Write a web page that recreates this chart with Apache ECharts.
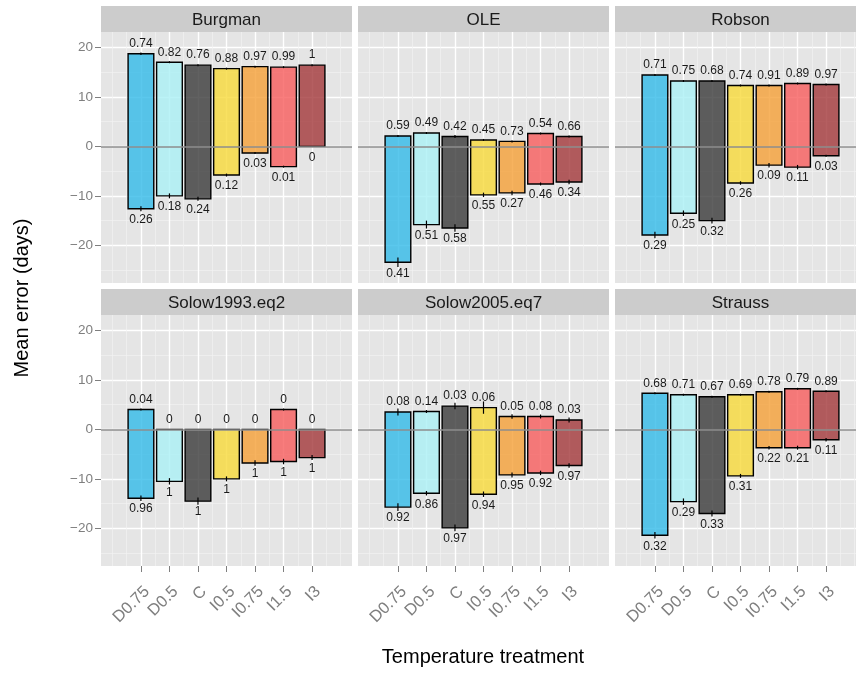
<!DOCTYPE html>
<html>
<head>
<meta charset="utf-8">
<script src="https://cdn.jsdelivr.net/npm/echarts@6/dist/echarts.min.js"></script>
<style>
  html, body { margin: 0; padding: 0; background: #ffffff; }
  #chart { width: 856px; height: 673px; }
</style>
</head>
<body>
<div id="chart"></div>
<script>
// Temperature treatments (x categories, positions 1..7)
const categories = ['D0.75', 'D0.5', 'C', 'I0.5', 'I0.75', 'I1.5', 'I3'];
const panelNames = ['Burgman', 'OLE', 'Robson', 'Solow1993.eq2', 'Solow2005.eq7', 'Strauss'];

// Mean positive / negative error (days) and the proportion labels for each estimator
const burgmanUpper = [18.7, 17.0, 16.4, 15.7, 16.1, 16.0, 16.4];
const burgmanLower = [-12.6, -10.0, -10.6, -5.8, -1.35, -4.1, 0];
const burgmanUpperP = [0.74, 0.82, 0.76, 0.88, 0.97, 0.99, 1];
const burgmanLowerP = [0.26, 0.18, 0.24, 0.12, 0.03, 0.01, 0];
const burgmanUpperSe = [0.25, 0.2, 0.2, 0.2, 0.2, 0.2, 0.2];
const burgmanLowerSe = [0.5, 0.5, 0.4, 0.3, 0.2, 0.2, 0];

const oleUpper = [2.1, 2.7, 2.0, 1.3, 1.0, 2.6, 2.0];
const oleLower = [-23.4, -15.8, -16.5, -9.8, -9.4, -7.6, -7.2];
const oleUpperP = [0.59, 0.49, 0.42, 0.45, 0.73, 0.54, 0.66];
const oleLowerP = [0.41, 0.51, 0.58, 0.55, 0.27, 0.46, 0.34];
const oleUpperSe = [0.2, 0.2, 0.3, 0.2, 0.2, 0.2, 0.2];
const oleLowerSe = [0.95, 0.8, 0.75, 0.45, 0.45, 0.3, 0.45];

const robsonUpper = [14.4, 13.2, 13.2, 12.3, 12.3, 12.7, 12.5];
const robsonLower = [-17.9, -13.5, -15.0, -7.4, -3.8, -4.2, -1.9];
const robsonUpperP = [0.71, 0.75, 0.68, 0.74, 0.91, 0.89, 0.97];
const robsonLowerP = [0.29, 0.25, 0.32, 0.26, 0.09, 0.11, 0.03];
const robsonUpperSe = [0.2, 0.2, 0.2, 0.2, 0.2, 0.2, 0.2];
const robsonLowerSe = [0.65, 0.55, 0.6, 0.35, 0.45, 0.45, 0.2];

const solow1993Upper = [4.0, 0, 0, 0, 0, 4.0, 0];
const solow1993Lower = [-13.9, -10.5, -14.5, -10.0, -6.8, -6.5, -5.7];
const solow1993UpperP = [0.04, 0, 0, 0, 0, 0, 0];
const solow1993LowerP = [0.96, 1, 1, 1, 1, 1, 1];
const solow1993UpperSe = [0.2, 0, 0, 0, 0, 0.2, 0];
const solow1993LowerSe = [0.55, 0.65, 0.75, 0.5, 0.55, 0.55, 0.5];

const solow2005Upper = [3.5, 3.6, 4.7, 4.4, 2.6, 2.6, 1.9];
const solow2005Lower = [-15.7, -12.9, -19.9, -13.1, -9.2, -8.8, -7.3];
const solow2005UpperP = [0.08, 0.14, 0.03, 0.06, 0.05, 0.08, 0.03];
const solow2005LowerP = [0.92, 0.86, 0.97, 0.94, 0.95, 0.92, 0.97];
const solow2005UpperSe = [0.7, 0.3, 0.65, 1.25, 0.45, 0.4, 0.5];
const solow2005LowerSe = [0.8, 0.45, 0.7, 0.55, 0.5, 0.45, 0.45];

const straussUpper = [7.3, 7.0, 6.6, 7.0, 7.6, 8.2, 7.7];
const straussLower = [-21.4, -14.6, -17.0, -9.4, -3.7, -3.7, -2.1];
const straussUpperP = [0.68, 0.71, 0.67, 0.69, 0.78, 0.79, 0.89];
const straussLowerP = [0.32, 0.29, 0.33, 0.31, 0.22, 0.21, 0.11];
const straussUpperSe = [0.2, 0.2, 0.2, 0.2, 0.2, 0.2, 0.2];
const straussLowerSe = [0.65, 0.65, 0.6, 0.4, 0.35, 0.4, 0.35];

// Axis breaks
const yMajorTicks = [-20, -10, 0, 10, 20];
const yMinorTicks = [-25, -15, -5, 5, 15];
const xMajorTicks = [1, 2, 3, 4, 5, 6, 7];
const xMinorTicks = [0, 0.5, 1.5, 2.5, 3.5, 4.5, 5.5, 6.5, 7.5, 8];

// Treatment fill colours (semi-transparent over the panel background)
const fills = [
  'rgba(50,186,233,0.8)', 'rgba(170,240,245,0.8)', 'rgba(58,58,58,0.8)',
  'rgba(248,218,58,0.8)', 'rgba(245,160,55,0.8)', 'rgba(248,93,93,0.8)',
  'rgba(163,55,58,0.8)'
];

const panels = [
  { upper: burgmanUpper, lower: burgmanLower, upperP: burgmanUpperP, lowerP: burgmanLowerP, upperSe: burgmanUpperSe, lowerSe: burgmanLowerSe },
  { upper: oleUpper, lower: oleLower, upperP: oleUpperP, lowerP: oleLowerP, upperSe: oleUpperSe, lowerSe: oleLowerSe },
  { upper: robsonUpper, lower: robsonLower, upperP: robsonUpperP, lowerP: robsonLowerP, upperSe: robsonUpperSe, lowerSe: robsonLowerSe },
  { upper: solow1993Upper, lower: solow1993Lower, upperP: solow1993UpperP, lowerP: solow1993LowerP, upperSe: solow1993UpperSe, lowerSe: solow1993LowerSe },
  { upper: solow2005Upper, lower: solow2005Lower, upperP: solow2005UpperP, lowerP: solow2005LowerP, upperSe: solow2005UpperSe, lowerSe: solow2005LowerSe },
  { upper: straussUpper, lower: straussLower, upperP: straussUpperP, lowerP: straussLowerP, upperSe: straussUpperSe, lowerSe: straussLowerSe }
];

// Facet layout
const colLeft = [101, 358, 615];
const rowTop = [32, 315];
const panelW = 251, panelH = 251, stripH = 26;
const xMin = -0.4, xMax = 8.4, yMin = -27.6, yMax = 23.1;
const barHalf = 0.45;
const FONT = '"Liberation Sans", Arial, Helvetica, sans-serif';

function fmtY(v) {
  return v < 0 ? '\u2212' + (-v) : String(v);
}

function makeRender(p) {
  return function (params, api) {
    const k = params.dataIndex;
    const x = api.value(0);
    const lo = api.value(1);
    const hi = api.value(2);
    const tl = api.coord([x - barHalf, hi]);
    const br = api.coord([x + barHalf, lo]);
    const mid = api.coord([x, 0])[0];
    const children = [{
      type: 'rect',
      shape: { x: tl[0], y: tl[1], width: br[0] - tl[0], height: br[1] - tl[1] },
      style: { fill: fills[k], stroke: '#000', lineWidth: 1.4 }
    }];
    const eu = p.upperSe[k];
    if (eu > 0) {
      const a = api.coord([x, hi + eu]), b = api.coord([x, hi - eu]);
      children.push({ type: 'line', shape: { x1: mid, y1: a[1], x2: mid, y2: b[1] }, style: { stroke: '#000', lineWidth: 1.2 } });
    }
    const el = p.lowerSe[k];
    if (el > 0) {
      const a = api.coord([x, lo + el]), b = api.coord([x, lo - el]);
      children.push({ type: 'line', shape: { x1: mid, y1: a[1], x2: mid, y2: b[1] }, style: { stroke: '#000', lineWidth: 1.2 } });
    }
    children.push({
      type: 'text', x: mid, y: tl[1] - 10,
      style: { text: String(p.upperP[k]), align: 'center', verticalAlign: 'middle', textAlign: 'center', textVerticalAlign: 'middle', fill: '#1a1a1a', font: '12px ' + FONT }
    });
    children.push({
      type: 'text', x: mid, y: br[1] + 11,
      style: { text: String(p.lowerP[k]), align: 'center', verticalAlign: 'middle', textAlign: 'center', textVerticalAlign: 'middle', fill: '#1a1a1a', font: '12px ' + FONT }
    });
    return { type: 'group', children: children };
  };
}

const grids = [], xAxes = [], yAxes = [], series = [], graphics = [];

panels.forEach(function (p, i) {
  const col = i % 3, row = Math.floor(i / 3);
  const left = colLeft[col], top = rowTop[row];
  grids.push({
    left: left, top: top, width: panelW, height: panelH,
    show: true, backgroundColor: '#e5e5e5', borderWidth: 0,
    containLabel: false, outerBoundsMode: 'none'
  });
  // major x axis: ticks, labels, major grid lines
  xAxes.push({
    type: 'value', gridIndex: i, min: xMin, max: xMax, position: 'bottom',
    axisLine: { show: false, onZero: false },
    axisTick: { show: row === 1, length: 6, customValues: xMajorTicks, lineStyle: { color: '#7f7f7f', width: 1 } },
    axisLabel: {
      show: row === 1, customValues: xMajorTicks,
      formatter: function (v) { return categories[Math.round(v) - 1] || ''; },
      rotate: 45, align: 'right', verticalAlign: 'top', margin: 17,
      color: '#7f7f7f', fontSize: 16.5, fontFamily: FONT
    },
    splitLine: { show: true, lineStyle: { color: '#ffffff', width: 1.4 } }
  });
  // minor x grid lines
  xAxes.push({
    type: 'value', gridIndex: i, min: xMin, max: xMax, position: 'top',
    axisLine: { show: false, onZero: false },
    axisTick: { show: false, customValues: xMinorTicks },
    axisLabel: { show: false, customValues: xMinorTicks },
    splitLine: { show: true, lineStyle: { color: '#f2f2f2', width: 0.7 } }
  });
  // major y axis
  yAxes.push({
    type: 'value', gridIndex: i, min: yMin, max: yMax, position: 'left',
    axisLine: { show: false, onZero: false },
    axisTick: { show: col === 0, length: 6, customValues: yMajorTicks, lineStyle: { color: '#7f7f7f', width: 1 } },
    axisLabel: {
      show: col === 0, customValues: yMajorTicks, formatter: fmtY, margin: 8,
      color: '#7f7f7f', fontSize: 13.5, fontFamily: FONT
    },
    splitLine: { show: true, lineStyle: { color: '#ffffff', width: 1.4 } }
  });
  // minor y grid lines
  yAxes.push({
    type: 'value', gridIndex: i, min: yMin, max: yMax, position: 'right',
    axisLine: { show: false, onZero: false },
    axisTick: { show: false, customValues: yMinorTicks },
    axisLabel: { show: false, customValues: yMinorTicks },
    splitLine: { show: true, lineStyle: { color: '#f2f2f2', width: 0.7 } }
  });

  const rows = categories.map(function (c, k) { return [k + 1, p.lower[k], p.upper[k]]; });
  series.push({
    type: 'custom', name: panelNames[i],
    xAxisIndex: 2 * i, yAxisIndex: 2 * i,
    data: rows,
    encode: { x: 0, y: [1, 2] },
    renderItem: makeRender(p),
    clip: false,
    z: 2,
    markLine: {
      silent: true, symbol: 'none', animation: false,
      label: { show: false },
      lineStyle: { color: '#8c8c8c', width: 1.5, type: 'solid' },
      data: [{ yAxis: 0 }]
    }
  });

  // facet strip
  graphics.push({
    type: 'rect', shape: { x: left, y: top - stripH, width: panelW, height: stripH },
    style: { fill: '#cccccc' }, silent: true
  });
  graphics.push({
    type: 'text', x: left + panelW / 2, y: top - stripH / 2 + 1,
    style: { text: panelNames[i], align: 'center', verticalAlign: 'middle', textAlign: 'center', textVerticalAlign: 'middle', fill: '#1a1a1a', font: '17px ' + FONT },
    silent: true
  });
});

// axis titles
graphics.push({
  type: 'text', x: 22, y: 298, rotation: Math.PI / 2,
  style: { text: 'Mean error (days)', align: 'center', verticalAlign: 'middle', textAlign: 'center', textVerticalAlign: 'middle', fill: '#000000', font: '20px ' + FONT },
  silent: true
});
graphics.push({
  type: 'text', x: 483, y: 657,
  style: { text: 'Temperature treatment', align: 'center', verticalAlign: 'middle', textAlign: 'center', textVerticalAlign: 'middle', fill: '#000000', font: '20px ' + FONT },
  silent: true
});

const chart = echarts.init(document.getElementById('chart'), null, { renderer: 'canvas' });
chart.setOption({
  animation: false,
  backgroundColor: '#ffffff',
  grid: grids,
  xAxis: xAxes,
  yAxis: yAxes,
  series: series,
  graphic: { elements: graphics }
});
</script>
</body>
</html>
